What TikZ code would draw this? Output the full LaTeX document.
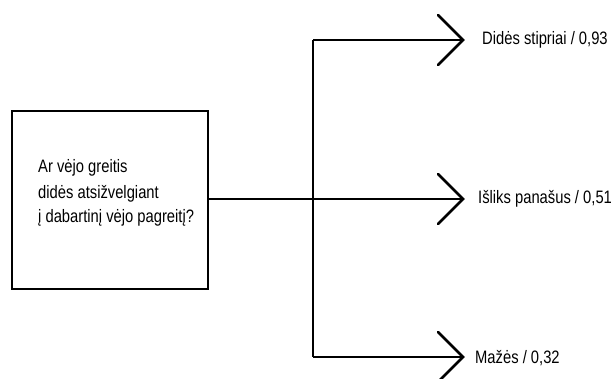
\documentclass[tikz,border=0pt]{standalone}
\usepackage{fontspec}
\usetikzlibrary{calc}
\setmainfont[FakeStretch=0.82]{Liberation Sans}
\begin{document}
\begin{tikzpicture}[x=1pt,y=-1pt,
  line/.style={line width=2.8pt},
  chev/.style={line width=2.8pt,line cap=round},
  txt/.style={anchor=base west,inner sep=0pt,font=\fontsize{18}{18}\selectfont},
  qbox/.style={draw,line width=2.8pt,minimum width=196pt,minimum height=178pt,inner sep=0pt}]
\useasboundingbox (0,0) rectangle (611,378);
\node[qbox] (q) at (110,200) {};
\node[txt] (qt1) at (38,172) {Ar vėjo greitis};
\node[txt] (qt2) at (38,198) {didės atsižvelgiant};
\node[txt] (qt3) at (38,222) {į dabartinį vėjo pagreitį?};
\coordinate (j) at (313,199);
\coordinate (jt) at (313,40);
\coordinate (jb) at (313,357);
\coordinate (t1) at (463,40);
\coordinate (t2) at (463,199);
\coordinate (t3) at (463,357);
\draw[line] (q.east |- j) -- (t2);
\draw[line] (jt) -- (jb);
\draw[line] (jt) -- (t1);
\draw[line] (jb) -- (t3);
\foreach \t in {t1,t2,t3}{
  \draw[chev] ($(\t)+(-25,-25)$) -- (\t) -- ($(\t)+(-25,25)$);
}
\node[txt] (l1) at (482,44) {Didės stipriai / 0,93};
\node[txt] (l2) at (478,203) {Išliks panašus / 0,51};
\node[txt] (l3) at (475,363) {Mažės / 0,32};
\end{tikzpicture}
\end{document}
